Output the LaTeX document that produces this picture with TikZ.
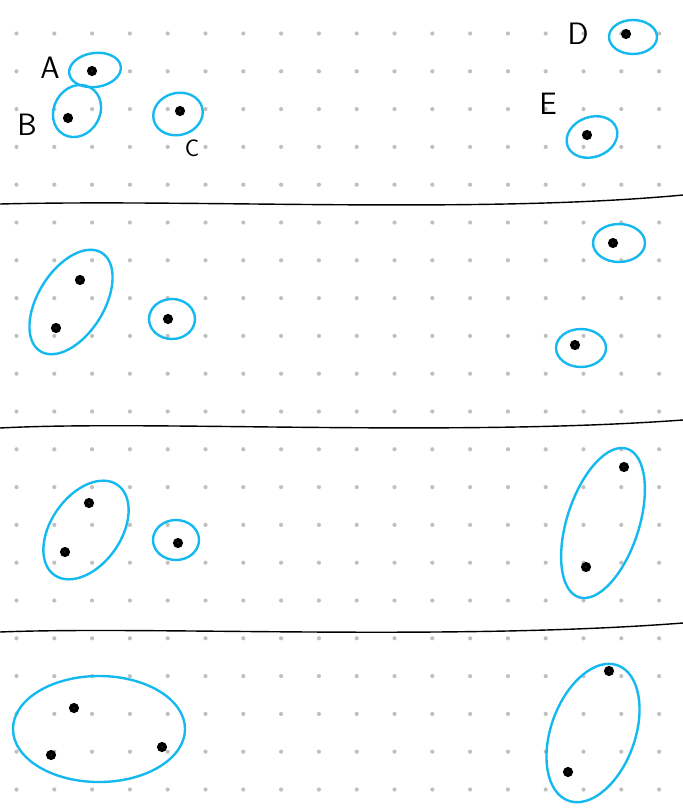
\documentclass[tikz,border=0pt]{standalone}
\usepackage{tikz}
\usetikzlibrary{positioning,shapes.geometric}
\definecolor{marker}{RGB}{20,185,240}
\definecolor{griddot}{RGB}{192,192,192}

\begin{document}
\begin{tikzpicture}[x=0.025cm,y=-0.025cm,
    pt/.style={circle,draw=black,fill=white,line width=3pt,inner sep=0pt,minimum size=4pt},
    clus/.style={ellipse,draw=marker,line width=1.7pt,inner sep=0pt},
    lbl/.style={font=\sffamily\fontsize{22}{22}\selectfont},
    divider/.style={draw=black,line width=1pt}
  ]
    \fill[white] (0,0) rectangle (683,809);
    \useasboundingbox (0,0) rectangle (683,809);
    % dotted paper
    \foreach \i in {0,...,17} {
      \foreach \j in {0,...,20} {
        \fill[griddot] (16.5+37.8*\i, 33.5+37.8*\j) circle[radius=2.1];
      }
    }
    % step separators
    \draw[divider] (0,204) .. controls (200,199) and (480,214) .. (683,195);
    \draw[divider] (0,428) .. controls (150,420) and (450,437) .. (683,420);
    \draw[divider] (0,632) .. controls (150,626) and (450,641) .. (683,623);

    % step 1: every point alone
    \node[clus,minimum width=1.30cm,minimum height=0.85cm,rotate=8] (a1c) at (95,70) {};
    \node[clus,minimum width=1.35cm,minimum height=1.15cm,rotate=60] (b1c) at (77,111) {};
    \node[clus,minimum width=1.25cm,minimum height=1.05cm,rotate=15] (c1c) at (178,114) {};
    \node[clus,minimum width=1.20cm,minimum height=0.85cm] (d1c) at (633,37) {};
    \node[clus,minimum width=1.30cm,minimum height=1.00cm,rotate=20] (e1c) at (592,137) {};
    \node[pt] (a1) at (92,71) {};
    \node[pt] (b1) at (68,118) {};
    \node[pt] (c1) at (180,111) {};
    \node[pt] (d1) at (626,34) {};
    \node[pt] (e1) at (587,135) {};
    \node[lbl] (la) at (50,68) {A};
    \node[lbl] (lb) at (27,125) {B};
    \node[lbl,font=\sffamily\fontsize{17}{17}\selectfont] (lc) at (192,148) {C};
    \node[lbl] (ld) at (578,34) {D};
    \node[lbl] (le) at (548,104) {E};

    % step 2: A and B merged
    \node[clus,minimum width=2.90cm,minimum height=1.65cm,rotate=58] (ab2c) at (71,302) {};
    \node[clus,minimum width=1.15cm,minimum height=1.00cm] (c2c) at (172,319) {};
    \node[clus,minimum width=1.30cm,minimum height=0.95cm] (d2c) at (619,243) {};
    \node[clus,minimum width=1.25cm,minimum height=0.95cm] (e2c) at (581,348) {};
    \node[pt] (a2) at (80,280) {};
    \node[pt] (b2) at (56,328) {};
    \node[pt] (c2) at (168,319) {};
    \node[pt] (d2) at (613,243) {};
    \node[pt] (e2) at (575,345) {};

    % step 3: D and E merged
    \node[clus,minimum width=2.75cm,minimum height=1.75cm,rotate=55] (ab3c) at (86,530) {};
    \node[clus,minimum width=1.15cm,minimum height=1.00cm] (c3c) at (176,540) {};
    \node[clus,minimum width=3.90cm,minimum height=1.80cm,rotate=72] (de3c) at (603,523) {};
    \node[pt] (a3) at (89,503) {};
    \node[pt] (b3) at (65,552) {};
    \node[pt] (c3) at (178,543) {};
    \node[pt] (d3) at (624,467) {};
    \node[pt] (e3) at (586,567) {};

    % step 4: C joins A,B
    \node[clus,minimum width=4.30cm,minimum height=2.65cm] (abc4c) at (99,729) {};
    \node[clus,minimum width=3.60cm,minimum height=2.10cm,rotate=70] (de4c) at (593,733) {};
    \node[pt] (a4) at (74,708) {};
    \node[pt] (b4) at (51,755) {};
    \node[pt] (c4) at (162,747) {};
    \node[pt] (d4) at (609,671) {};
    \node[pt] (e4) at (568,772) {};
  \end{tikzpicture}
\end{document}
